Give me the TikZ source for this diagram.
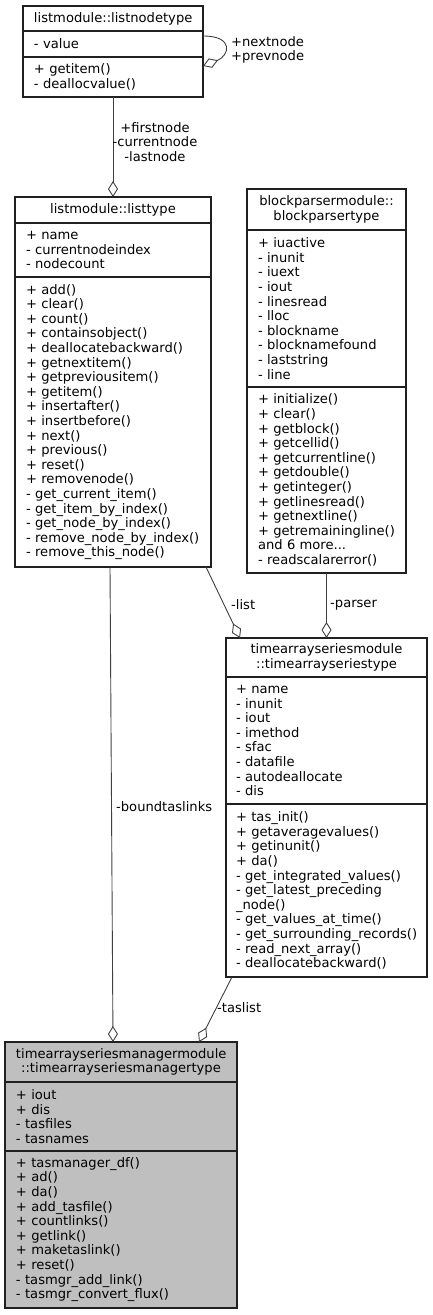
\documentclass[tikz,border=0pt]{standalone}
\usepackage{fontspec}
\setmainfont{DejaVu Sans}
\usetikzlibrary{arrows.meta}
\definecolor{edgec}{HTML}{404040}
\definecolor{boxc}{HTML}{202020}
\definecolor{mgrfill}{HTML}{BFBFBF}
\exhyphenpenalty=10000
\hyphenpenalty=10000
\hbadness=10000
\hfuzz=30pt
\tikzset{
  txt/.style={font=\fontsize{13.1}{14.6}\selectfont},
  comp/.style={txt, draw=boxc, line width=1.1pt, rectangle, inner xsep=11pt, inner ysep=0pt,
    outer sep=0pt, anchor=north west, align=left},
  head/.style={comp, align=center},
  edge/.style={draw=edgec, line width=0.9pt},
  agg/.style={edge, -{Diamond[open, length=16pt, width=10pt]}},
  lbl/.style={txt, inner sep=0pt, align=left}
}
\begin{document}
\begin{tikzpicture}[x=1pt,y=-1pt]
\useasboundingbox (0,0) rectangle (433,1315);

% listnodetype
\node[head, minimum width=180pt, minimum height=25pt, text width=158pt] (lnth) at (23,6) {listmodule::listnodetype};
\node[comp, minimum width=180pt, minimum height=26pt, text width=158pt] (lnta) at (23,31) {-~value};
\node[comp, minimum width=180pt, minimum height=40pt, text width=158pt] (lntm) at (23,57) {+~getitem()\\-~deallocvalue()};

% listtype
\node[head, minimum width=196pt, minimum height=26pt, text width=174pt] (lth) at (15,197) {listmodule::listtype};
\node[comp, minimum width=196pt, minimum height=54pt, text width=174pt] (lta) at (15,223) {+~name\\-~currentnodeindex\\-~nodecount};
\node[comp, minimum width=196pt, minimum height=290pt, text width=174pt] (ltm) at (15,277) {+~add()\\+~clear()\\+~count()\\+~containsobject()\\+~deallocatebackward()\\+~getnextitem()\\+~getpreviousitem()\\+~getitem()\\+~insertafter()\\+~insertbefore()\\+~next()\\+~previous()\\+~reset()\\+~removenode()\\-~get\_current\_item()\\-~get\_item\_by\_index()\\-~get\_node\_by\_index()\\-~remove\_node\_by\_index()\\-~remove\_this\_node()};

% blockparsertype
\node[head, minimum width=159pt, minimum height=41pt, text width=137pt] (bph) at (247,189) {blockparsermodule::\\blockparsertype};
\node[comp, minimum width=159pt, minimum height=157pt, text width=137pt] (bpa) at (247,230) {+~iuactive\\-~inunit\\-~iuext\\-~iout\\-~linesread\\-~lloc\\-~blockname\\-~blocknamefound\\-~laststring\\-~line};
\node[comp, minimum width=159pt, minimum height=186pt, text width=137pt] (bpm) at (247,387) {+~initialize()\\+~clear()\\+~getblock()\\+~getcellid()\\+~getcurrentline()\\+~getdouble()\\+~getinteger()\\+~getlinesread()\\+~getnextline()\\+~getremainingline()\\and~6~more...\\-~readscalarerror()};

% timearrayseriestype
\node[head, minimum width=201pt, minimum height=39pt, text width=181pt, inner xsep=10pt] (tash) at (226,638) {timearrayseriesmodule\\::timearrayseriestype};
\node[comp, minimum width=201pt, minimum height=127pt, text width=181pt, inner xsep=10pt] (tasa) at (226,677) {+~name\\-~inunit\\-~iout\\-~imethod\\-~sfac\\-~datafile\\-~autodeallocate\\-~dis};
\node[comp, minimum width=201pt, minimum height=173pt, text width=181pt, inner xsep=10pt] (tasm) at (226,804) {+~tas\_init()\\+~getaveragevalues()\\+~getinunit()\\+~da()\\-~get\_integrated\_values()\\-~get\_latest\_preceding\\\_node()\\-~get\_values\_at\_time()\\\mbox{-~get\_surrounding\_records()}\\-~read\_next\_array()\\-~deallocatebackward()};

% timearrayseriesmanagertype
\node[head, fill=mgrfill, minimum width=232pt, minimum height=40pt, text width=210pt] (mgh) at (5,1042) {timearrayseriesmanagermodule\\::timearrayseriesmanagertype};
\node[comp, fill=mgrfill, minimum width=232pt, minimum height=69pt, text width=210pt] (mga) at (5,1082) {+~iout\\+~dis\\-~tasfiles\\-~tasnames};
\node[comp, fill=mgrfill, minimum width=232pt, minimum height=157pt, text width=210pt] (mgm) at (5,1151) {+~tasmanager\_df()\\+~ad()\\+~da()\\+~add\_tasfile()\\+~countlinks()\\+~getlink()\\+~maketaslink()\\+~reset()\\-~tasmgr\_add\_link()\\-~tasmgr\_convert\_flux()};

% connectors
\draw[agg] ([yshift=-5pt]lnta.north east) .. controls +(32,0) and +(26,-10) .. ([yshift=-9pt]lntm.north east);
\node[lbl, anchor=west] (selflbl) at (231,50) {+nextnode\\+prevnode};

\draw[agg] (lntm.south) -- (lth.north);
\node[lbl, align=center] (fnlbl) at (155,142) {+firstnode\\-currentnode\\-lastnode};

\draw[agg] ([xshift=-3pt]ltm.south) -- ([xshift=-8pt]mgh.north);
\node[lbl, anchor=west] (btlbl) at (116,807) {-boundtaslinks};

\draw[agg] ([xshift=-5pt]ltm.south east) -- ([xshift=14pt]tash.north west);
\node[lbl, anchor=west] (listlbl) at (231,605) {-list};

\draw[agg] (bpm.south) -- (tash.north);
\node[lbl, anchor=west] (parserlbl) at (330,605) {-parser};

\draw[agg] ([xshift=6pt]tasm.south west) -- ([xshift=-38pt]mgh.north east);
\node[lbl, anchor=west] (taslbl) at (217,1008) {-taslist};
\end{tikzpicture}
\end{document}
